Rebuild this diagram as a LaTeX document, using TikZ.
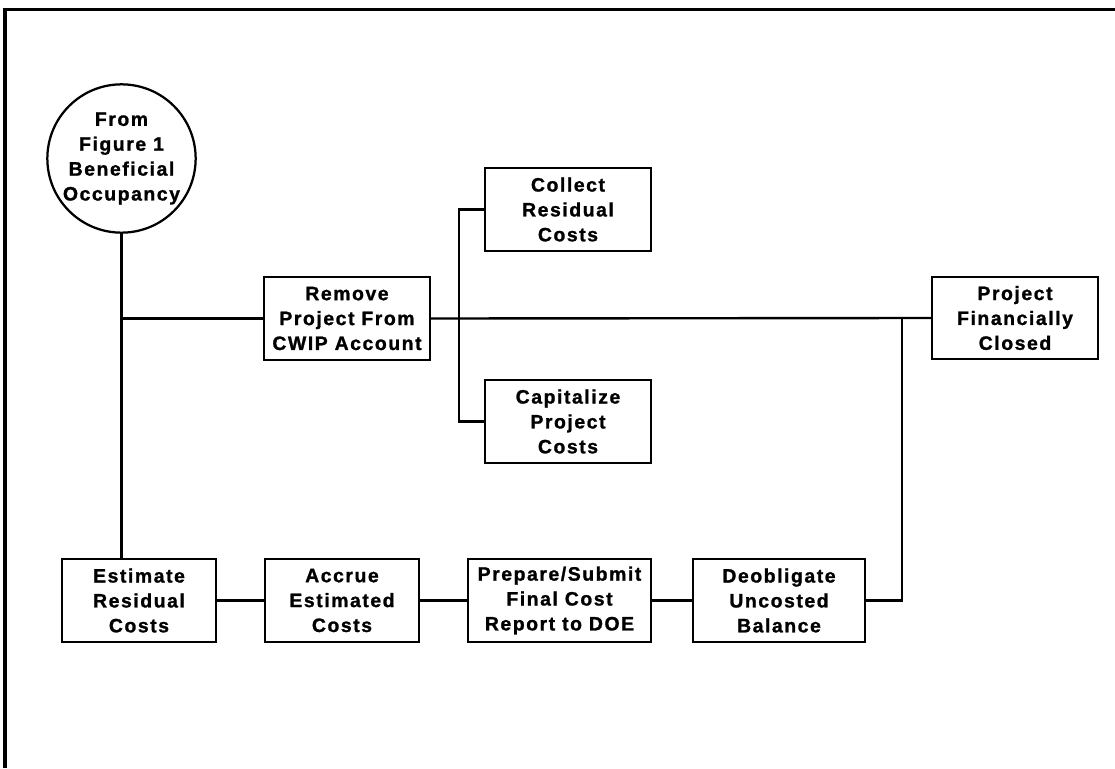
\documentclass[tikz,border=0pt]{standalone}
\usepackage{fontspec}
\setmainfont{Liberation Sans}[LetterSpace=8, FakeBold=1.2]
\begin{document}
\begin{tikzpicture}[x=0.025cm, y=-0.025cm,
    font=\fontsize{13.8}{17.7}\selectfont\bfseries,
    box/.style={draw, line width=1.6pt, align=center, inner sep=1pt,
                minimum width=4.15cm, minimum height=2.075cm},
    link/.style={line width=1.7pt}]
    \useasboundingbox (0,0) rectangle (1115,768);

    % --- FRAME ---
    \draw[line width=2.6pt] (5,768) -- (5,9.5) -- (1115,9.5);

    % --- START ---
    \node[draw, circle, line width=1.6pt, minimum size=3.55cm, inner sep=0pt, align=center]
        (occ) at (121.5,158.5) {From\\Figure 1\\Beneficial\\Occupancy};

    % --- UPPER ROW ---
    \node[box] (remove) at (347,318.5) {Remove\\Project From\\CWIP Account};
    \node[box] (collect) at (568,209.5) {Collect\\Residual\\Costs};
    \node[box] (capital) at (568,421.5) {Capitalize\\Project\\Costs};
    \node[box, minimum height=2.05cm] (closed) at (1015,318) {Project\\Financially\\Closed};

    % --- LOWER ROW ---
    \node[box, minimum width=3.85cm] (est) at (139,600.5) {Estimate\\Residual\\Costs};
    \node[box, minimum width=3.85cm] (accrue) at (342,600.5) {Accrue\\Estimated\\Costs};
    \node[box, minimum width=4.575cm] (report) at (559.5,600.5) {Prepare/Submit\\Final Cost\\Report to DOE};
    \node[box, minimum width=4.3cm] (deoblig) at (779,600.5) {Deobligate\\Uncosted\\Balance};

    % --- CONNECTORS ---
    \draw[link] (occ.south) -- (occ.south |- est.north);
    \draw[link] (occ.south |- remove.west) -- (remove.west);
    \draw[link] (remove.east) -- (closed.west);
    \draw[link] (collect.west) -- ++(-25,0) |- (capital.west);
    \draw[link] (est.east) -- (accrue.west);
    \draw[link] (accrue.east) -- (report.west);
    \draw[link] (report.east) -- (deoblig.west);
    \draw[link] (deoblig.east) -- ++(36,0) |- (closed.west);
\end{tikzpicture}
\end{document}
